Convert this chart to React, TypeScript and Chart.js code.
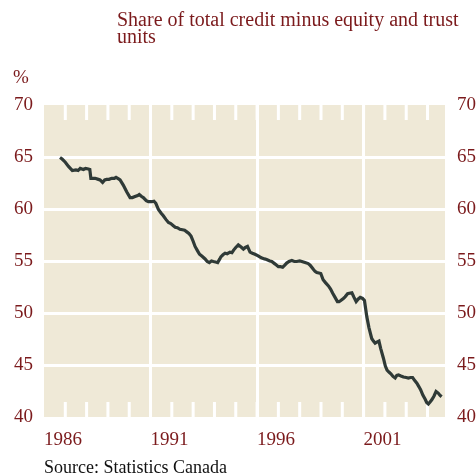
import React, { useEffect, useRef } from "react";
import { Chart, registerables } from "chart.js";

Chart.register(...registerables);

const TITLE_LINES = ["Share of total credit minus equity and trust", "units"];
const UNIT = "%";
const SOURCE = "Source: Statistics Canada";

const yearLabels = [1986, 1991, 1996, 2001];
const majorYears = [1991, 1996, 2001];
const minorYears = [1987, 1988, 1989, 1990, 1991, 1992, 1993, 1994, 1995, 1996, 1997, 1998, 1999, 2000, 2001, 2002, 2003, 2004];
const yTickValues = [40, 45, 50, 55, 60, 65, 70];

const years = [
  1986.75, 1986.85, 1987.0, 1987.15, 1987.33, 1987.5, 1987.6, 1987.7, 1987.85, 1987.95,
  1988.08, 1988.15, 1988.2, 1988.4, 1988.55, 1988.63, 1988.75, 1988.85, 1988.94, 1989.05,
  1989.18, 1989.3, 1989.38, 1989.5, 1989.57, 1989.72, 1989.88, 1990.04, 1990.15, 1990.27,
  1990.4, 1990.47, 1990.58, 1990.66, 1990.8, 1990.9, 1991.05, 1991.16, 1991.25, 1991.37,
  1991.5, 1991.6, 1991.72, 1991.84, 1991.95, 1992.07, 1992.16, 1992.26, 1992.38, 1992.5,
  1992.6, 1992.7, 1992.8, 1992.9, 1993.0, 1993.09, 1993.2, 1993.3, 1993.42, 1993.56,
  1993.66, 1993.76, 1993.86, 1993.95, 1994.05, 1994.15, 1994.25, 1994.3, 1994.4, 1994.5,
  1994.6, 1994.73, 1994.82, 1994.9, 1995.0, 1995.12, 1995.25, 1995.36, 1995.45, 1995.55,
  1995.67, 1995.78, 1995.9, 1996.05, 1996.2, 1996.35, 1996.45, 1996.6, 1996.69, 1996.85,
  1997.0, 1997.1, 1997.2, 1997.3, 1997.39, 1997.5, 1997.63, 1997.75, 1997.86, 1998.0,
  1998.1, 1998.25, 1998.4, 1998.49, 1998.64, 1998.72, 1998.8, 1998.9, 1998.99, 1999.1,
  1999.22, 1999.35, 1999.45, 1999.55, 1999.66, 1999.77, 1999.85, 1999.93, 2000.05, 2000.13,
  2000.25, 2000.33, 2000.45, 2000.55, 2000.65, 2000.75, 2000.84, 2000.95, 2001.04, 2001.15,
  2001.25, 2001.38, 2001.46, 2001.54, 2001.62, 2001.72, 2001.8, 2001.93, 2002.02, 2002.1,
  2002.2, 2002.28, 2002.38, 2002.48, 2002.56, 2002.64, 2002.75, 2002.87, 2003.0, 2003.1,
  2003.2, 2003.3, 2003.4, 2003.5, 2003.6, 2003.68, 2003.78, 2003.89, 2003.96, 2004.04,
  2004.12, 2004.2, 2004.3, 2004.4, 2004.5, 2004.58, 2004.66,
];

const shares = [
  64.95, 64.8, 64.5, 64.1, 63.7, 63.75, 63.7, 63.9, 63.8, 63.9,
  63.85, 63.8, 62.95, 62.95, 62.85, 62.8, 62.55, 62.8, 62.85, 62.85,
  62.95, 62.95, 63.05, 62.9, 62.8, 62.3, 61.65, 61.1, 61.1, 61.2,
  61.3, 61.4, 61.2, 61.1, 60.8, 60.7, 60.7, 60.75, 60.55, 59.95,
  59.6, 59.35, 59.0, 58.7, 58.6, 58.4, 58.25, 58.2, 58.05, 58.0,
  57.95, 57.8, 57.65, 57.4, 56.9, 56.4, 56.0, 55.65, 55.45, 55.2,
  54.95, 54.85, 55.0, 54.95, 54.9, 54.85, 55.2, 55.4, 55.6, 55.75,
  55.7, 55.85, 55.8, 56.05, 56.3, 56.55, 56.35, 56.15, 56.3, 56.4,
  55.85, 55.75, 55.65, 55.5, 55.3, 55.2, 55.15, 55.0, 54.95, 54.7,
  54.45, 54.45, 54.4, 54.6, 54.8, 54.95, 55.05, 54.95, 54.95, 55.0,
  54.95, 54.85, 54.75, 54.6, 54.2, 54.0, 53.9, 53.85, 53.8, 53.2,
  52.9, 52.6, 52.3, 51.9, 51.5, 51.1, 51.1, 51.2, 51.4, 51.55,
  51.85, 51.9, 51.95, 51.5, 51.1, 51.35, 51.5, 51.4, 51.2, 49.65,
  48.6, 47.55, 47.3, 47.1, 47.2, 47.3, 46.6, 45.65, 44.9, 44.5,
  44.3, 44.15, 43.9, 43.75, 44.0, 44.05, 43.95, 43.85, 43.8, 43.75,
  43.8, 43.8, 43.5, 43.25, 42.9, 42.6, 42.1, 41.7, 41.4, 41.25,
  41.45, 41.65, 42.0, 42.45, 42.3, 42.1, 41.95,
];

const RED = "#7b1a1c";
const BG = "#efe9d7";
const LINE = "#2f3a37";
const FONT = '"Liberation Serif", "DejaVu Serif", serif';

const panelPlugin = {
  id: "panel",
  beforeDraw(chart: any) {
    const { ctx, chartArea: a } = chart;
    ctx.save();
    ctx.fillStyle = BG;
    ctx.fillRect(a.left, a.top, a.right - a.left, a.bottom - a.top);
    ctx.restore();
  },
  beforeDatasetsDraw(chart: any) {
    const { ctx, chartArea: a } = chart;
    const xs = chart.scales.x;
    ctx.save();
    ctx.strokeStyle = "#ffffff";
    ctx.lineWidth = 3;
    minorYears.forEach((yr) => {
      const px = xs.getPixelForValue(yr);
      ctx.beginPath();
      ctx.moveTo(px, a.top);
      ctx.lineTo(px, a.top + 15);
      ctx.moveTo(px, a.bottom);
      ctx.lineTo(px, a.bottom - 15);
      ctx.stroke();
    });
    ctx.restore();
  },
};

export default function App() {
  const canvasRef = useRef<HTMLCanvasElement | null>(null);

  useEffect(() => {
    document.body.style.margin = "0";
    const canvas = canvasRef.current;
    if (!canvas) return;
    const tickFont = { family: FONT, size: 19 };
    const chart = new Chart(canvas, {
      type: "line",
      data: {
        datasets: [
          {
            data: years.map((y, i) => ({ x: y, y: shares[i] })),
            borderColor: LINE,
            borderWidth: 3.2,
            pointRadius: 0,
            tension: 0,
            fill: false,
          },
        ],
      },
      options: {
        responsive: false,
        animation: false,
        layout: { padding: { top: 105, left: 0, right: 0, bottom: 0 } },
        plugins: { legend: { display: false }, tooltip: { enabled: false }, title: { display: false } },
        scales: {
          x: {
            type: "linear",
            position: "bottom",
            min: 1986,
            max: 2004.82,
            afterFit: (s: any) => {
              s.height = 59;
            },
            afterBuildTicks: (s: any) => {
              s.ticks = minorYears.concat([1986]).sort((a, b) => a - b).map((v) => ({ value: v }));
            },
            ticks: {
              autoSkip: false,
              maxRotation: 0,
              minRotation: 0,
              align: "start",
              padding: 12,
              color: RED,
              font: tickFont,
              callback: (v: any) => (yearLabels.includes(Number(v)) ? String(v) : ""),
            },
            grid: {
              color: (c: any) => (majorYears.includes(c.tick?.value) ? "#ffffff" : "rgba(0,0,0,0)"),
              lineWidth: 3,
              drawTicks: false,
            },
            border: { display: false },
          },
          y: {
            position: "left",
            min: 40,
            max: 70,
            afterFit: (s: any) => {
              s.width = 44;
            },
            afterBuildTicks: (s: any) => {
              s.ticks = yTickValues.map((v) => ({ value: v }));
            },
            ticks: { padding: 11, color: RED, font: tickFont },
            grid: {
              color: (c: any) =>
                c.tick && c.tick.value > 40 && c.tick.value < 70 ? "#ffffff" : "rgba(0,0,0,0)",
              lineWidth: 3,
              drawTicks: false,
            },
            border: { display: false },
          },
          y2: {
            position: "right",
            min: 40,
            max: 70,
            afterFit: (s: any) => {
              s.width = 31;
            },
            afterBuildTicks: (s: any) => {
              s.ticks = yTickValues.map((v) => ({ value: v }));
            },
            ticks: { padding: 12, color: RED, font: tickFont },
            grid: { display: false, drawTicks: false },
            border: { display: false },
          },
        },
      },
      plugins: [panelPlugin],
    } as any);
    return () => chart.destroy();
  }, []);

  const textBase: React.CSSProperties = {
    position: "absolute",
    fontFamily: FONT,
    lineHeight: "17px",
    whiteSpace: "nowrap",
    margin: 0,
  };

  return (
    <div style={{ position: "relative", width: 476, height: 476, background: "#ffffff" }}>
      <canvas ref={canvasRef} width={476} height={476} style={{ position: "absolute", left: 0, top: 0 }} />
      <div style={{ ...textBase, fontSize: 20, left: 117, top: 11, color: RED }}>
        {TITLE_LINES.map((l, i) => (
          <div key={i}>{l}</div>
        ))}
      </div>
      <div style={{ ...textBase, fontSize: 19, left: 13, top: 68, color: RED }}>{UNIT}</div>
      <div style={{ ...textBase, fontSize: 18, left: 44, top: 459, color: "#111111" }}>{SOURCE}</div>
    </div>
  );
}
